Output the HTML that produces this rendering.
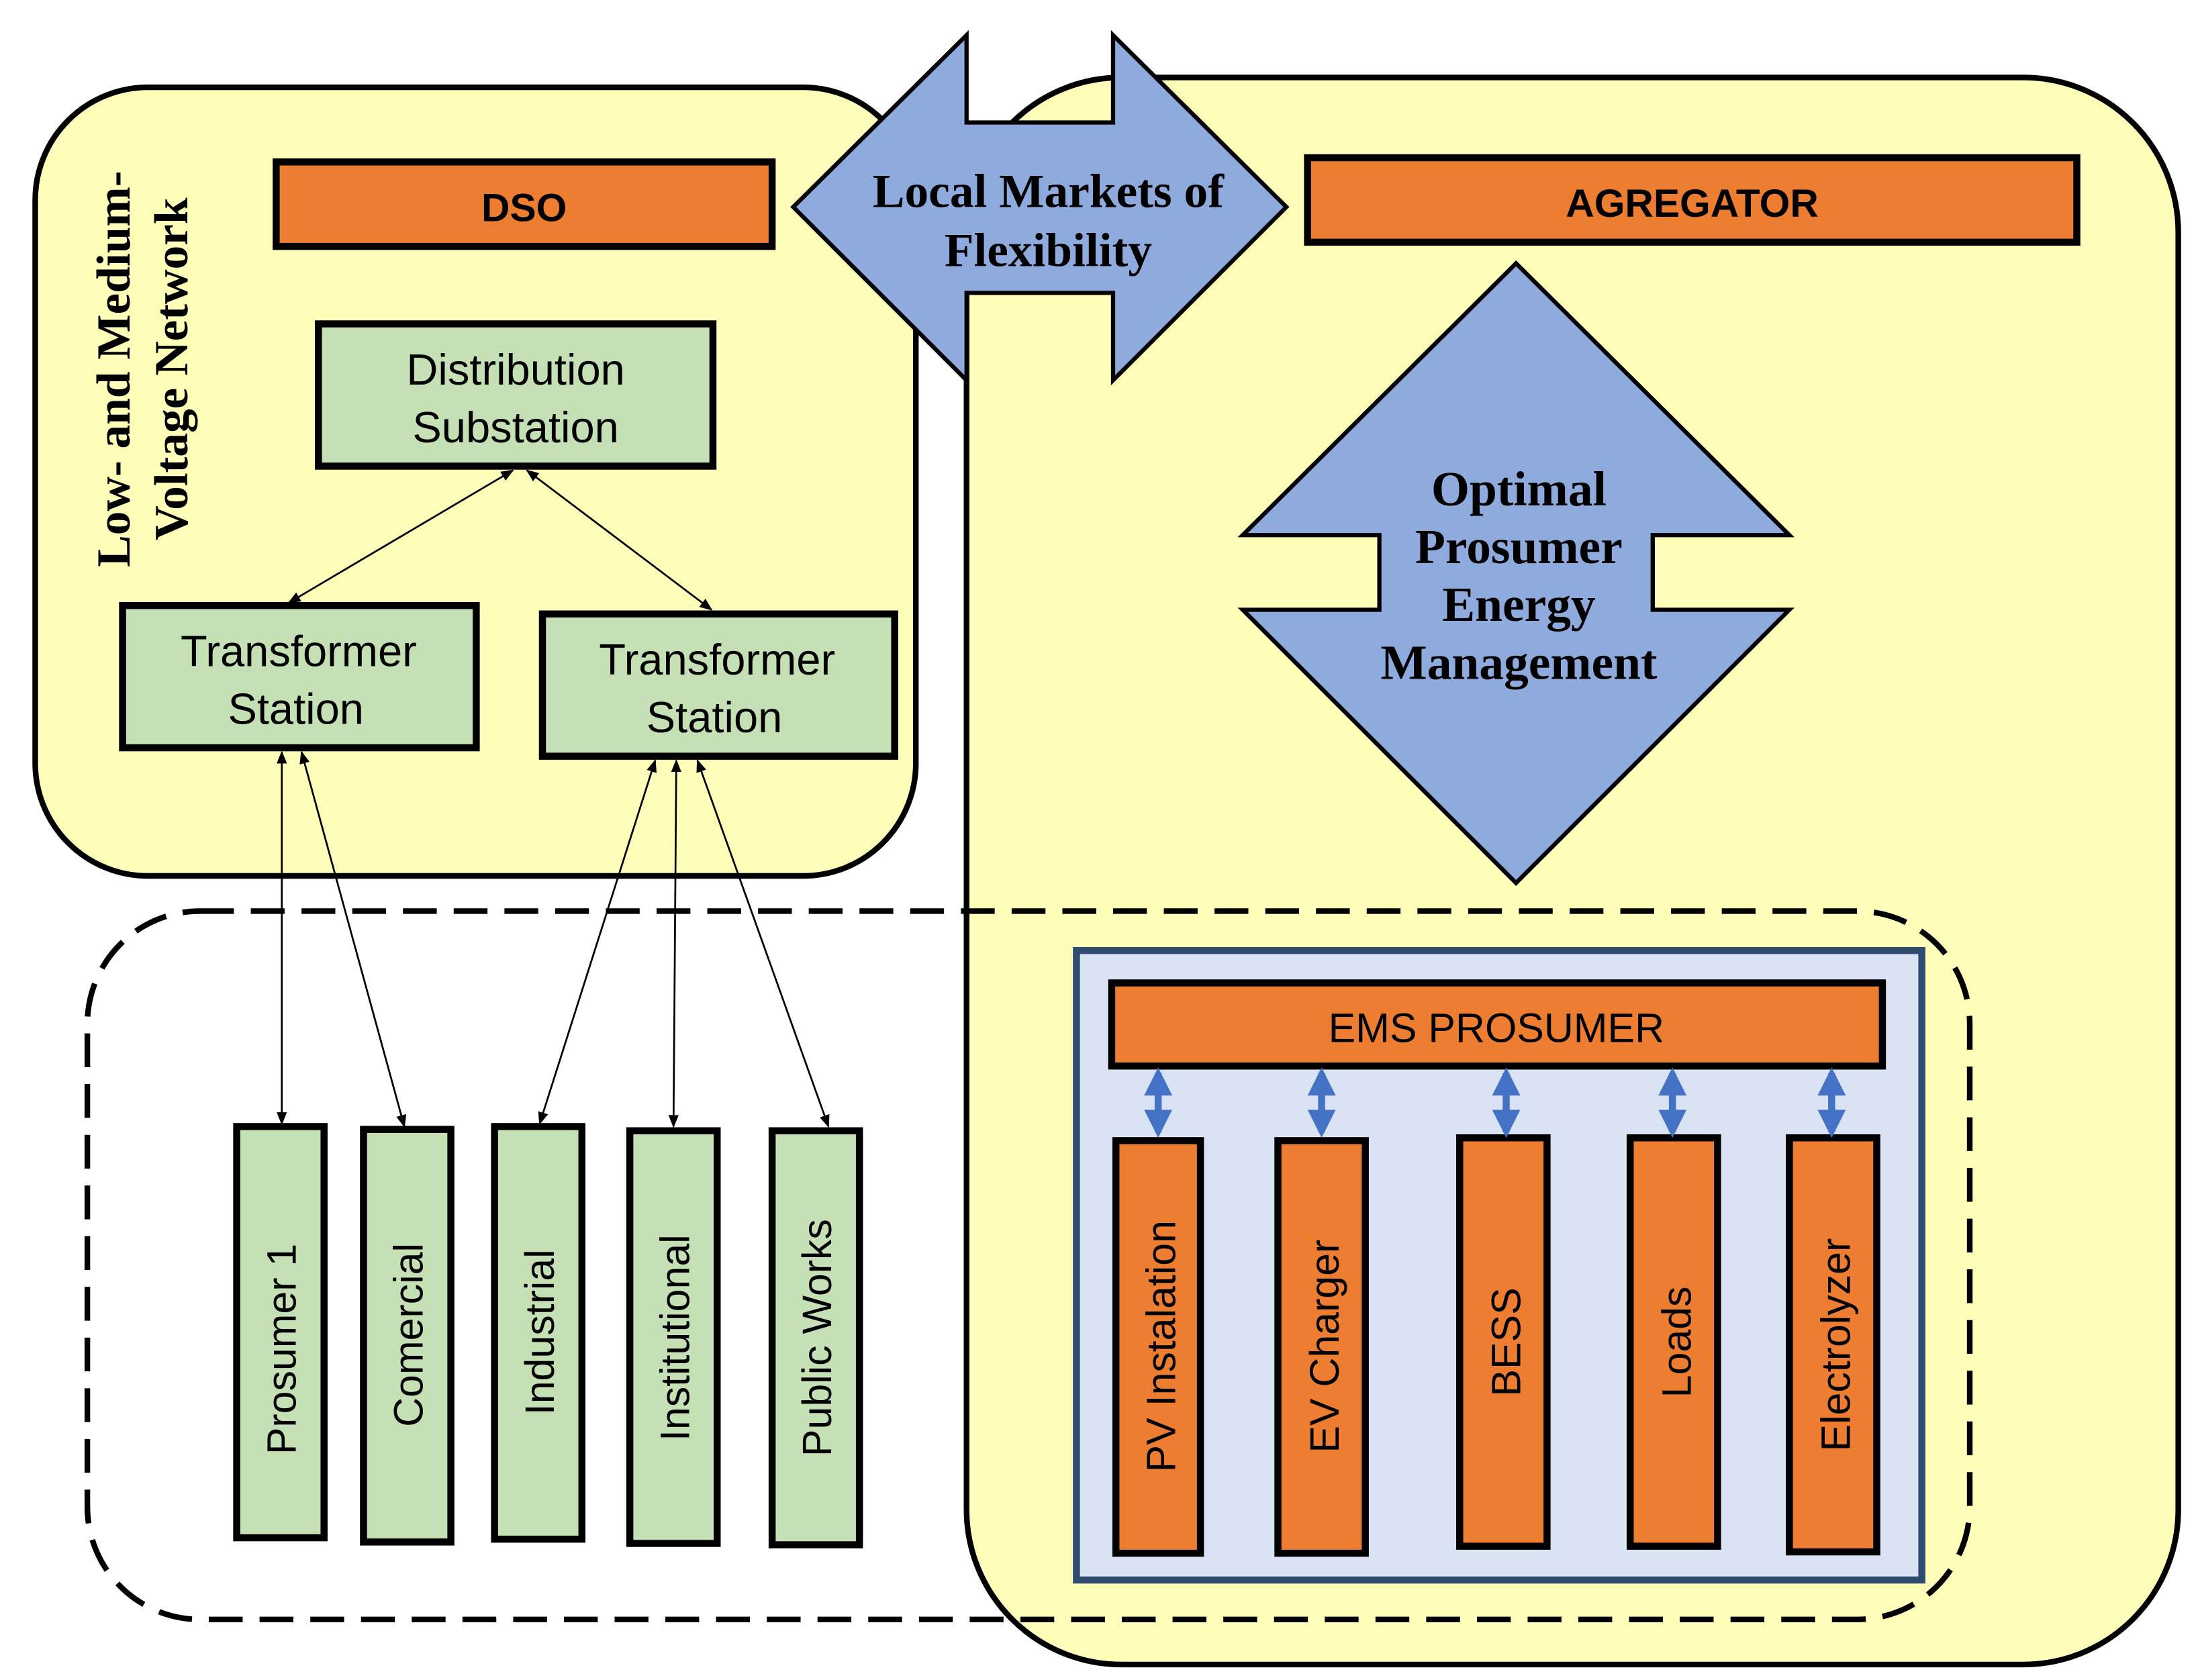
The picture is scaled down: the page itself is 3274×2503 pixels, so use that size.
<!DOCTYPE html>
<html><head><meta charset="utf-8"><style>
html,body{margin:0;padding:0;background:#fff;}
svg{display:block;}
text{font-family:"Liberation Sans",sans-serif;}
.serif{font-family:"Liberation Serif",serif;font-weight:bold;}
</style></head><body>
<svg width="3274" height="2503" viewBox="0 0 1560 1193" preserveAspectRatio="none" xmlns="http://www.w3.org/2000/svg">
<defs>
<marker id="a" viewBox="0 0 10 10" refX="9" refY="5" markerWidth="7" markerHeight="7" orient="auto-start-reverse"><path d="M0,1 L10,5 L0,9 z" fill="#000"/></marker>
<marker id="b" viewBox="0 0 10 10" refX="8" refY="5" markerWidth="4" markerHeight="4" orient="auto-start-reverse"><path d="M0,0 L10,5 L0,10 z" fill="#4472c4"/></marker>
</defs>
<rect width="1560" height="1193" fill="#fff"/>
<rect x="686" y="55" width="860" height="1127" rx="110" fill="#ffffb9" stroke="#000" stroke-width="4"/>
<rect x="25" y="62" width="625" height="560" rx="80" fill="#ffffb9" stroke="#000" stroke-width="4"/>
<rect x="62" y="647" width="1336" height="503" rx="80" fill="none" stroke="#000" stroke-width="4" stroke-dasharray="24,12"/>
<rect x="196" y="115" width="352" height="60" fill="#ed7d31" stroke="#000" stroke-width="5"/>
<text x="372" y="157" font-size="28" font-weight="bold" text-anchor="middle">DSO</text>
<rect x="928" y="112" width="546" height="60" fill="#ed7d31" stroke="#000" stroke-width="5"/>
<text x="1201" y="154" font-size="28" font-weight="bold" text-anchor="middle">AGREGATOR</text>
<polygon points="563,147 686,25 686,87 790,87 790,25 913,147 790,270 790,208 686,208 686,270" fill="#8faadc" stroke="#000" stroke-width="3"/>
<text class="serif" x="744" y="147" font-size="34" text-anchor="middle">Local Markets of</text>
<text class="serif" x="744" y="189" font-size="34" text-anchor="middle">Flexibility</text>
<polygon points="1076,187 1270,380 1173,380 1173,433 1270,433 1076,627 882,433 979,433 979,380 882,380" fill="#8faadc" stroke="#000" stroke-width="3"/>
<text class="serif" x="1078" y="359" font-size="35" text-anchor="middle">Optimal</text>
<text class="serif" x="1078" y="400" font-size="35" text-anchor="middle">Prosumer</text>
<text class="serif" x="1078" y="441" font-size="35" text-anchor="middle">Energy</text>
<text class="serif" x="1078" y="482" font-size="35" text-anchor="middle">Management</text>
<g transform="translate(105,262) rotate(-90)">
<text class="serif" x="0" y="-13" font-size="34" text-anchor="middle">Low- and Medium-</text>
<text class="serif" x="0" y="28" font-size="34" text-anchor="middle">Voltage Network</text>
</g>
<rect x="226" y="230" width="280" height="101" fill="#c5e0b4" stroke="#000" stroke-width="5"/>
<text x="366" y="273" font-size="31" text-anchor="middle">Distribution</text>
<text x="366" y="314" font-size="31" text-anchor="middle">Substation</text>
<rect x="87" y="430" width="251" height="101" fill="#c5e0b4" stroke="#000" stroke-width="5"/>
<text x="212" y="473" font-size="31" text-anchor="middle">Transformer</text>
<text x="210" y="514" font-size="31" text-anchor="middle">Station</text>
<rect x="385" y="436" width="250" height="101" fill="#c5e0b4" stroke="#000" stroke-width="5"/>
<text x="509" y="479" font-size="31" text-anchor="middle">Transformer</text>
<text x="507" y="520" font-size="31" text-anchor="middle">Station</text>
<g stroke="#000" stroke-width="1.3" marker-start="url(#a)" marker-end="url(#a)">
<line x1="364" y1="334" x2="205" y2="428"/>
<line x1="374" y1="334" x2="505" y2="433"/>
<line x1="200" y1="534" x2="200" y2="798"/>
<line x1="214" y1="534" x2="287" y2="800"/>
<line x1="465" y1="540" x2="383" y2="798"/>
<line x1="480" y1="540" x2="478" y2="800"/>
<line x1="495" y1="540" x2="588" y2="800"/>
</g>
<g fill="#c5e0b4" stroke="#000" stroke-width="5">
<rect x="168" y="800" width="62" height="292"/>
<rect x="258" y="802" width="62" height="293"/>
<rect x="351" y="800" width="62" height="293"/>
<rect x="447" y="803" width="62" height="293"/>
<rect x="548" y="803" width="62" height="294"/>
</g>
<g font-size="29" text-anchor="middle">
<text transform="translate(210,958) rotate(-90)">Prosumer 1</text>
<text transform="translate(300,948) rotate(-90)">Comercial</text>
<text transform="translate(393,946) rotate(-90)">Industrial</text>
<text transform="translate(489,950) rotate(-90)">Institutional</text>
<text transform="translate(590,950) rotate(-90)">Public Works</text>
</g>
<rect x="764" y="675" width="600" height="447" fill="#dae3f3" stroke="#2f4b70" stroke-width="5"/>
<rect x="789" y="698" width="547" height="59" fill="#ed7d31" stroke="#000" stroke-width="5"/>
<text x="1062" y="740" font-size="29" text-anchor="middle">EMS PROSUMER</text>
<g fill="#ed7d31" stroke="#000" stroke-width="5">
<rect x="792" y="810" width="60" height="293"/>
<rect x="907" y="810" width="62" height="293"/>
<rect x="1036" y="808" width="62" height="290"/>
<rect x="1157" y="808" width="62" height="290"/>
<rect x="1270" y="808" width="62" height="294"/>
</g>
<g font-size="29" text-anchor="middle">
<text transform="translate(834,956) rotate(-90)">PV Instalation</text>
<text transform="translate(950,956) rotate(-90)">EV Charger</text>
<text transform="translate(1079,953) rotate(-90)">BESS</text>
<text transform="translate(1200,953) rotate(-90)">Loads</text>
<text transform="translate(1313,955) rotate(-90)">Electrolyzer</text>
</g>
<g stroke="#4472c4" stroke-width="5" marker-start="url(#b)" marker-end="url(#b)">
<line x1="822" y1="762" x2="822" y2="804"/>
<line x1="938" y1="762" x2="938" y2="804"/>
<line x1="1069" y1="762" x2="1069" y2="804"/>
<line x1="1187" y1="762" x2="1187" y2="804"/>
<line x1="1300" y1="762" x2="1300" y2="804"/>
</g>
</svg>
</body></html>
